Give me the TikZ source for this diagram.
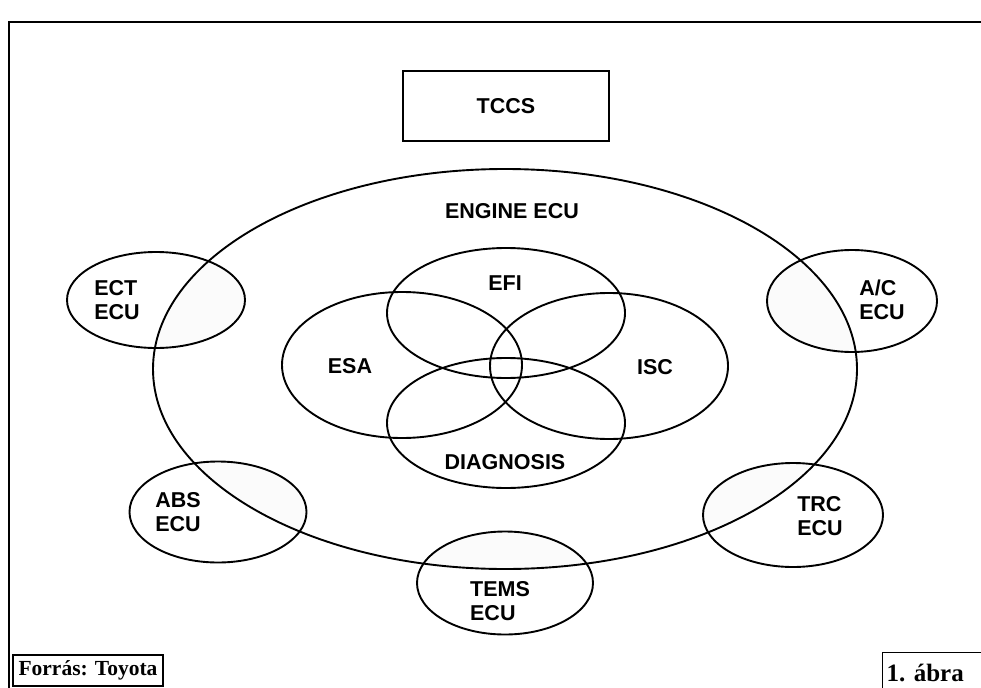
\documentclass[tikz,border=0pt]{standalone}
\usepackage{fontspec}
\setmainfont{Liberation Serif}
\newfontfamily\ecufont{Liberation Sans}
\usepackage{tikz}
\usetikzlibrary{shapes.geometric}

\tikzset{
    ecu/.style={draw, ellipse, line width=1.9pt, inner sep=0pt},
    lbl/.style={font=\ecufont\bfseries\fontsize{21.5}{24}\selectfont, align=left, inner sep=0pt},
    tag/.style={draw, line width=1.4pt, font=\bfseries\fontsize{21.5}{23}\selectfont, inner sep=3pt}
}

\begin{document}
\begin{tikzpicture}[x=1pt, y=-1pt]
    \clip (0,0) rectangle (981,687);
    \fill[white] (0,0) rectangle (981,687);
    \draw[line width=2pt] (9,700) -- (9,22) -- (1000,22);
    % faint overlap of the outer ECUs with the engine ECU
    \begin{scope}
        \clip (505,369) ellipse [x radius=352pt, y radius=200pt];
        \foreach \p/\w/\h in {{(156,300)}/178/96, {(852,301)}/170/102, {(793,515)}/180/104, {(505,583)}/176/103, {(218,512)}/177/101}
            \fill[gray!3] \p ellipse [x radius=\w pt/2, y radius=\h pt/2];
    \end{scope}
    % engine ECU and the functions inside it
    \node[ecu, minimum width=704pt, minimum height=400pt] (engine) at (505,369) {};
    \node[ecu, minimum width=238pt, minimum height=130pt] (efi) at (506,313) {};
    \node[ecu, minimum width=240pt, minimum height=146pt] (esa) at (402,365) {};
    \node[ecu, minimum width=238pt, minimum height=146pt] (isc) at (609,366) {};
    \node[ecu, minimum width=238pt, minimum height=130pt] (diag) at (506,423) {};
    % outer ECUs
    \node[ecu, minimum width=178pt, minimum height=96pt] (ect) at (156,300) {};
    \node[ecu, minimum width=170pt, minimum height=102pt] (ac) at (852,301) {};
    \node[ecu, minimum width=180pt, minimum height=104pt] (trc) at (793,515) {};
    \node[ecu, minimum width=176pt, minimum height=103pt] (tems) at (505,583) {};
    \node[ecu, minimum width=177pt, minimum height=101pt] (abs) at (218,512) {};
    % labels
    \node[draw, line width=2.2pt, minimum width=206pt, minimum height=70pt, lbl] (tccs) at (506,106) {TCCS};
    \node[lbl] (enginetxt) at (512,211) {ENGINE ECU};
    \node[lbl] (efitxt) at (505,283) {EFI};
    \node[lbl] (esatxt) at (350,366) {ESA};
    \node[lbl] (isctxt) at (655,367) {ISC};
    \node[lbl] (diagtxt) at (505,462) {DIAGNOSIS};
    \node[lbl] (ecttxt) at (117,300) {ECT\\ECU};
    \node[lbl] (actxt) at (882,300) {A/C\\ECU};
    \node[lbl] (abstxt) at (178,512) {ABS\\ECU};
    \node[lbl] (trctxt) at (820,516) {TRC\\ECU};
    \node[lbl] (temstxt) at (500,601) {TEMS\\ECU};
    % source and figure number
    \node[tag, minimum width=150pt, minimum height=31pt] (source) at (88,670.5) {Forr\'as: Toyota};
    \node[tag, anchor=north west, text width=110pt, minimum height=40pt, inner sep=4pt, font=\bfseries\fontsize{25}{27}\selectfont] (fig) at (882,652) {1.\ \'abra};
\end{tikzpicture}
\end{document}
